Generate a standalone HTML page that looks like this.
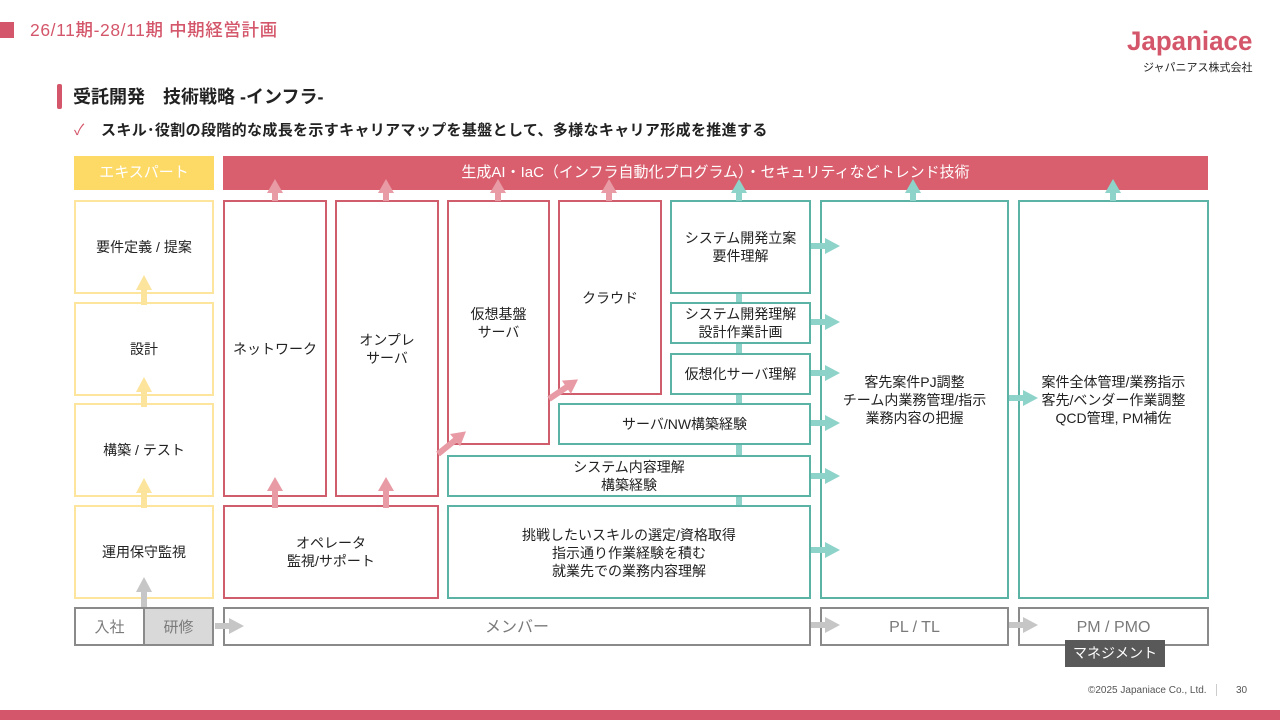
<!DOCTYPE html>
<html><head><meta charset="utf-8">
<style>
*{margin:0;padding:0;box-sizing:border-box}
body{width:1280px;height:720px;background:#fff;position:relative;overflow:hidden;font-family:"Liberation Sans","Noto Sans CJK JP",sans-serif;color:#222}
.a{position:absolute}
.box{position:absolute;background:#fff;border:2px solid;display:flex;align-items:center;justify-content:center;text-align:center;font-size:14px;line-height:18px;color:#222}
.y{border-color:#fde59e}
.r{border-color:#cf5d6c}
.t{border-color:#5bb3a6}
.g{border-color:#8a8a8a;color:#7a7a7a;font-size:16px;padding-top:3px}
</style></head><body>
<!-- top header -->
<div class="a" style="left:0;top:22px;width:14px;height:16px;background:#d4566a"></div>
<div class="a" style="left:30px;top:19px;font-size:17.5px;line-height:22px;color:#d4566a;font-weight:500;letter-spacing:0.6px">26/11期-28/11期 中期経営計画</div>
<div class="a" style="left:1127px;top:24px;font-size:27px;line-height:34px;color:#d4566a;font-weight:bold;transform:scaleX(0.96);transform-origin:left top">Japaniace</div>
<div class="a" style="left:1143px;top:61px;font-size:11px;line-height:14px;color:#222">ジャパニアス株式会社</div>

<div class="a" style="left:57px;top:84px;width:5px;height:25px;background:#d4566a;border-radius:2px"></div>
<div class="a" style="left:73px;top:85px;font-size:18px;line-height:24px;font-weight:bold;color:#222">受託開発　技術戦略 -インフラ-</div>
<div class="a" style="left:74px;top:121px;font-size:15px;line-height:20px;color:#d4566a">✓</div>
<div class="a" style="left:101px;top:121px;font-size:15px;line-height:20px;font-weight:bold;color:#222;letter-spacing:0.35px">スキル･役割の段階的な成長を示すキャリアマップを基盤として、多様なキャリア形成を推進する</div>

<!-- headers -->
<div class="a" style="left:74px;top:156px;width:140px;height:34px;background:#fdd966;color:#fff;font-size:15px;line-height:34px;text-align:center">エキスパート</div>
<div class="a" style="left:223px;top:156px;width:985px;height:34px;background:#d95f6e;color:#fff;font-size:15px;line-height:34px;text-align:center">生成AI・IaC（インフラ自動化プログラム）・セキュリティなどトレンド技術</div>

<!-- teal vertical connector -->
<div class="a" style="left:736px;top:290px;width:6px;height:218px;background:#8ed3ca"></div>

<!-- yellow column -->
<div class="box y" style="left:74px;top:200px;width:140px;height:94px">要件定義&nbsp;/&nbsp;提案</div>
<div class="box y" style="left:74px;top:302px;width:140px;height:94px">設計</div>
<div class="box y" style="left:74px;top:403px;width:140px;height:94px">構築&nbsp;/&nbsp;テスト</div>
<div class="box y" style="left:74px;top:505px;width:140px;height:94px">運用保守監視</div>

<!-- red boxes -->
<div class="box r" style="left:223px;top:200px;width:104px;height:297px">ネットワーク</div>
<div class="box r" style="left:335px;top:200px;width:104px;height:297px">オンプレ<br>サーバ</div>
<div class="box r" style="left:447px;top:200px;width:103px;height:245px">仮想基盤<br>サーバ</div>
<div class="box r" style="left:558px;top:200px;width:104px;height:195px">クラウド</div>
<div class="box r" style="left:223px;top:505px;width:216px;height:94px">オペレータ<br>監視/サポート</div>

<!-- teal boxes -->
<div class="box t" style="left:670px;top:200px;width:141px;height:94px">システム開発立案<br>要件理解</div>
<div class="box t" style="left:670px;top:302px;width:141px;height:42px">システム開発理解<br>設計作業計画</div>
<div class="box t" style="left:670px;top:353px;width:141px;height:42px">仮想化サーバ理解</div>
<div class="box t" style="left:558px;top:403px;width:253px;height:42px">サーバ/NW構築経験</div>
<div class="box t" style="left:447px;top:455px;width:364px;height:42px">システム内容理解<br>構築経験</div>
<div class="box t" style="left:447px;top:505px;width:364px;height:94px;padding-top:2px">挑戦したいスキルの選定/資格取得<br>指示通り作業経験を積む<br>就業先での業務内容理解</div>
<div class="box t" style="left:820px;top:200px;width:189px;height:399px">客先案件PJ調整<br>チーム内業務管理/指示<br>業務内容の把握</div>
<div class="box t" style="left:1018px;top:200px;width:191px;height:399px">案件全体管理/業務指示<br>客先/ベンダー作業調整<br>QCD管理, PM補佐</div>

<!-- bottom role row -->
<div class="box g" style="left:74px;top:607px;width:71px;height:39px;font-size:15px">入社</div>
<div class="box g" style="left:143px;top:607px;width:71px;height:39px;background:#d9d9d9;font-size:15px">研修</div>
<div class="box g" style="left:223px;top:607px;width:588px;height:39px">メンバー</div>
<div class="box g" style="left:820px;top:607px;width:189px;height:39px">PL / TL</div>
<div class="box g" style="left:1018px;top:607px;width:191px;height:39px">PM / PMO</div>
<div class="a" style="left:1065px;top:640px;width:100px;height:27px;background:#595959;color:#fff;font-size:14px;line-height:27px;text-align:center">マネジメント</div>

<!-- arrows -->
<svg class="a" style="left:0;top:0" width="1280" height="720" viewBox="0 0 1280 720">
<g fill="#e89aa5">
<polygon points="272,201 272,193 267,193 275,179 283,193 278,193 278,201"/>
<polygon points="383,201 383,193 378,193 386,179 394,193 389,193 389,201"/>
<polygon points="495,201 495,193 490,193 498,179 506,193 501,193 501,201"/>
<polygon points="606,201 606,193 601,193 609,179 617,193 612,193 612,201"/>
<polygon points="272,508 272,491 267,491 275,477 283,491 278,491 278,508"/>
<polygon points="383,508 383,491 378,491 386,477 394,491 389,491 389,508"/>
<polygon transform="translate(438,454) rotate(-39)" points="0,-3 22,-3 22,-8 36,0 22,8 22,3 0,3"/>
<polygon transform="translate(549,399) rotate(-34)" points="0,-3 21,-3 21,-8 35,0 21,8 21,3 0,3"/>
</g>
<g fill="#8ed3ca">
<polygon points="736,201 736,193 731,193 739,179 747,193 742,193 742,201"/>
<polygon points="910,201 910,193 905,193 913,179 921,193 916,193 916,201"/>
<polygon points="1110,201 1110,193 1105,193 1113,179 1121,193 1116,193 1116,201"/>
<polygon points="811,243 825,243 825,238 840,246 825,254 825,249 811,249"/>
<polygon points="811,319 825,319 825,314 840,322 825,330 825,325 811,325"/>
<polygon points="811,370 825,370 825,365 840,373 825,381 825,376 811,376"/>
<polygon points="811,420 825,420 825,415 840,423 825,431 825,426 811,426"/>
<polygon points="811,473 825,473 825,468 840,476 825,484 825,479 811,479"/>
<polygon points="811,547 825,547 825,542 840,550 825,558 825,553 811,553"/>
<polygon points="1009,395 1023,395 1023,390 1038,398 1023,406 1023,401 1009,401"/>
</g>
<g fill="#fde49c">
<polygon points="141,305 141,290 136,290 144,275 152,290 147,290 147,305"/>
<polygon points="141,407 141,392 136,392 144,377 152,392 147,392 147,407"/>
<polygon points="141,508 141,493 136,493 144,478 152,493 147,493 147,508"/>
</g>
<g fill="#c6c6c6">
<polygon points="141,607 141,592 136,592 144,577 152,592 147,592 147,607"/>
<polygon points="215,623 229,623 229,618 244,626 229,634 229,629 215,629"/>
<polygon points="811,622 825,622 825,617 840,625 825,633 825,628 811,628"/>
<polygon points="1009,622 1023,622 1023,617 1038,625 1023,633 1023,628 1009,628"/>
</g>
</svg>

<!-- footer -->
<div class="a" style="left:1088px;top:684px;font-size:10px;line-height:13px;color:#555">©2025 Japaniace Co., Ltd.</div>
<div class="a" style="left:1216px;top:684px;width:1px;height:12px;background:#ccc"></div>
<div class="a" style="left:1236px;top:684px;font-size:10px;line-height:13px;color:#555">30</div>
<div class="a" style="left:0;top:710px;width:1280px;height:10px;background:#d4566a"></div>
</body></html>
